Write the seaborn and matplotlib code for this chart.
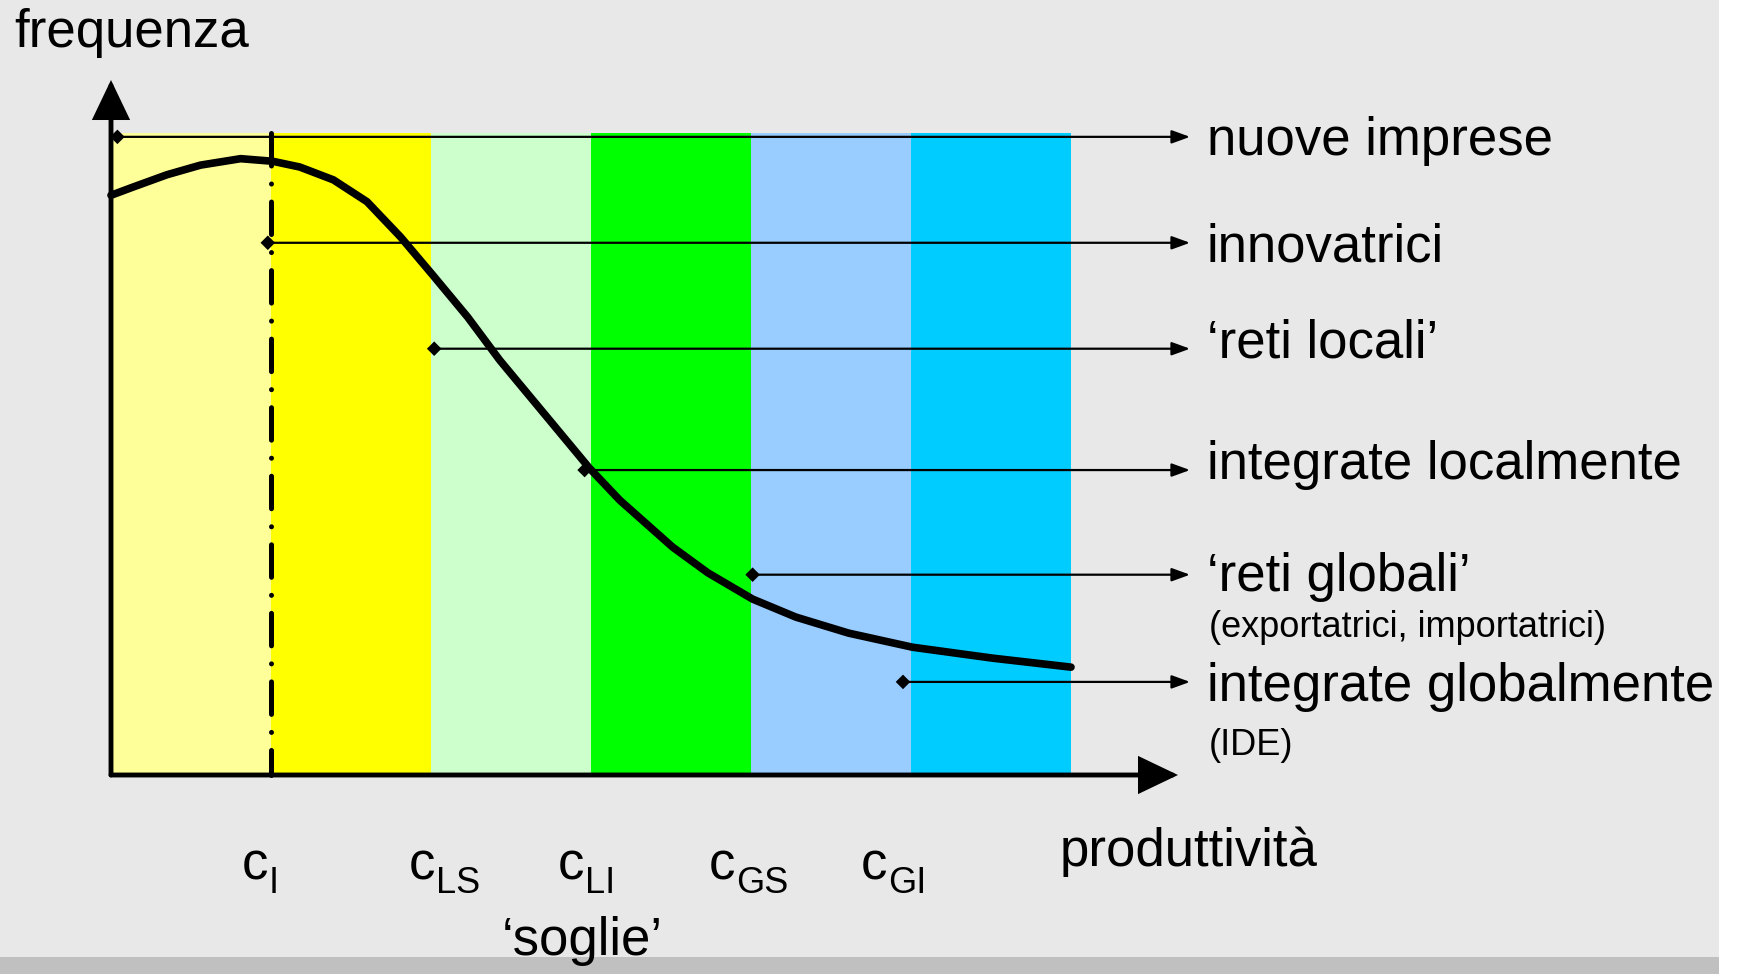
import numpy as np
import pandas as pd
import matplotlib
matplotlib.use("Agg")
import matplotlib.pyplot as plt
from matplotlib.patches import Rectangle
import seaborn as sns

# =====================================================================
# DATA
# =====================================================================
# productivity bands, one per type of firm (unit = distance between thresholds)
band_edges = [0, 1, 2, 3, 4, 5, 6]
band_colors = ["#ffff99", "#ffff00", "#ccffcc", "#00ff00", "#99ccff", "#00ccff"]
band_top = 1.0

# thresholds ('soglie') and the subscripts of their labels
thresholds = [1, 2, 3, 4, 5]
threshold_subs = ["I", "LS", "LI", "GS", "GI"]

# frequency curve
curve_x = [0.0, 0.14, 0.35, 0.56, 0.81, 1.01, 1.18, 1.39, 1.6, 1.81, 2.01, 2.23, 2.43,
           2.73, 2.99, 3.18, 3.51, 3.73, 4.01, 4.28, 4.61, 5.01, 5.51, 6.0]
curve_y = [0.903, 0.916, 0.935, 0.950, 0.960, 0.956, 0.947, 0.927, 0.893, 0.838, 0.779, 0.713, 0.646,
           0.556, 0.478, 0.428, 0.355, 0.315, 0.274, 0.246, 0.221, 0.199, 0.182, 0.168]

# firm types: diamond marker where each pointer starts
firm_types = ["nuove imprese", "innovatrici", "\u2018reti locali\u2019", "integrate localmente",
              "\u2018reti globali\u2019", "integrate globalmente"]
marker_x = [0.04, 0.98, 2.02, 2.96, 4.01, 4.95]
marker_y = [0.994, 0.829, 0.664, 0.475, 0.312, 0.145]
sub_notes = {4: "(exportatrici, importatrici)", 5: "(IDE)"}

# =====================================================================
# LAYOUT (reference pixels -> data units)
# =====================================================================
W, H = 1740, 974
X0, XU = 111, 160      # pixel of x = 0, pixels per unit
Y0, YU = 775, 642      # pixel of y = 0, pixels per unit

def dx(px):
    return (px - X0) / XU

def dy(py):
    return (Y0 - py) / YU

sns.set_theme(style="white")
plt.rcParams["font.family"] = ["Liberation Sans", "DejaVu Sans"]
plt.rcParams["text.color"] = "black"

fig = plt.figure(figsize=(W / 100, H / 100), dpi=100)
fig.patch.set_facecolor("white")
# slide background and bottom band
fig.add_artist(Rectangle((0, 1 - 957 / H), 1719 / W, 957 / H, transform=fig.transFigure,
                         facecolor="#e8e8e8", edgecolor="none", zorder=0))
fig.add_artist(Rectangle((0, 0), 1719 / W, 1 - 957 / H, transform=fig.transFigure,
                         facecolor="#c0c0c0", edgecolor="none", zorder=0))

ax = fig.add_axes([0, 0, 1, 1])
ax.set_facecolor("none")
ax.set_xlim(dx(0), dx(W))
ax.set_ylim(dy(H), dy(0))
ax.axis("off")

# coloured bands
ax.bar(band_edges[:-1], band_top, width=np.diff(band_edges), align="edge",
       color=band_colors, edgecolor="none", zorder=1)

# pointers from each band to its label
arrow_end = dx(1190)
for mx, my in zip(marker_x, marker_y):
    ax.annotate("", xy=(arrow_end, my), xytext=(mx, my), zorder=2,
                arrowprops=dict(arrowstyle="-|>,head_length=0.55,head_width=0.2", lw=1.6,
                                color="black", shrinkA=0, shrinkB=0, mutation_scale=20))
sns.scatterplot(x=marker_x, y=marker_y, marker="D", s=55, color="black",
                edgecolor="none", ax=ax, zorder=3)

# first threshold (dash-dot)
ax.plot([thresholds[0], thresholds[0]], [band_top, 0], color="black", lw=3.6,
        linestyle=(0, (6.5, 3.6, 0.01, 3.6)), dash_capstyle="round", zorder=3)

# frequency curve
curve = pd.DataFrame({"produttivita": curve_x, "frequenza": curve_y})
sns.lineplot(data=curve, x="produttivita", y="frequenza", color="black", lw=5.5,
             ax=ax, zorder=4, solid_capstyle="round", solid_joinstyle="round")
ax.set_xlabel("")
ax.set_ylabel("")

# axes with arrow heads
axis_arrow = dict(arrowstyle="-|>,head_length=1.15,head_width=0.55", lw=3.5, color="black",
                  shrinkA=0, shrinkB=0, mutation_scale=20, joinstyle="miter")
ax.annotate("", xy=(0, dy(80)), xytext=(0, 0), arrowprops=axis_arrow, zorder=5)
ax.annotate("", xy=(dx(1178), 0), xytext=(0, 0), arrowprops=axis_arrow, zorder=5)

# texts
big, sub, small = 38, 26, 26
ax.text(dx(14), dy(47), "frequenza", fontsize=big, va="baseline", ha="left")
ax.text(dx(1060), dy(866), "produttivit\u00e0", fontsize=big, va="baseline", ha="left")

label_left = [242, 409, 558, 709, 861]
for px, s in zip(label_left, threshold_subs):
    ax.text(dx(px), dy(880), "c", fontsize=big, va="baseline", ha="left")
    ax.text(dx(px + 27), dy(893), s, fontsize=sub, va="baseline", ha="left")
ax.text(dx(582), dy(955), "\u2018soglie\u2019", fontsize=big, va="baseline", ha="center", zorder=6)

label_base = [155, 261, 358, 479, 591, 701]
note_base = {4: 637, 5: 755}
for i, (name, pb) in enumerate(zip(firm_types, label_base)):
    ax.text(dx(1207), dy(pb), name, fontsize=big, va="baseline", ha="left")
    if i in sub_notes:
        ax.text(dx(1209), dy(note_base[i]), sub_notes[i], fontsize=small, va="baseline", ha="left")

plt.savefig("out.png", dpi=100)
